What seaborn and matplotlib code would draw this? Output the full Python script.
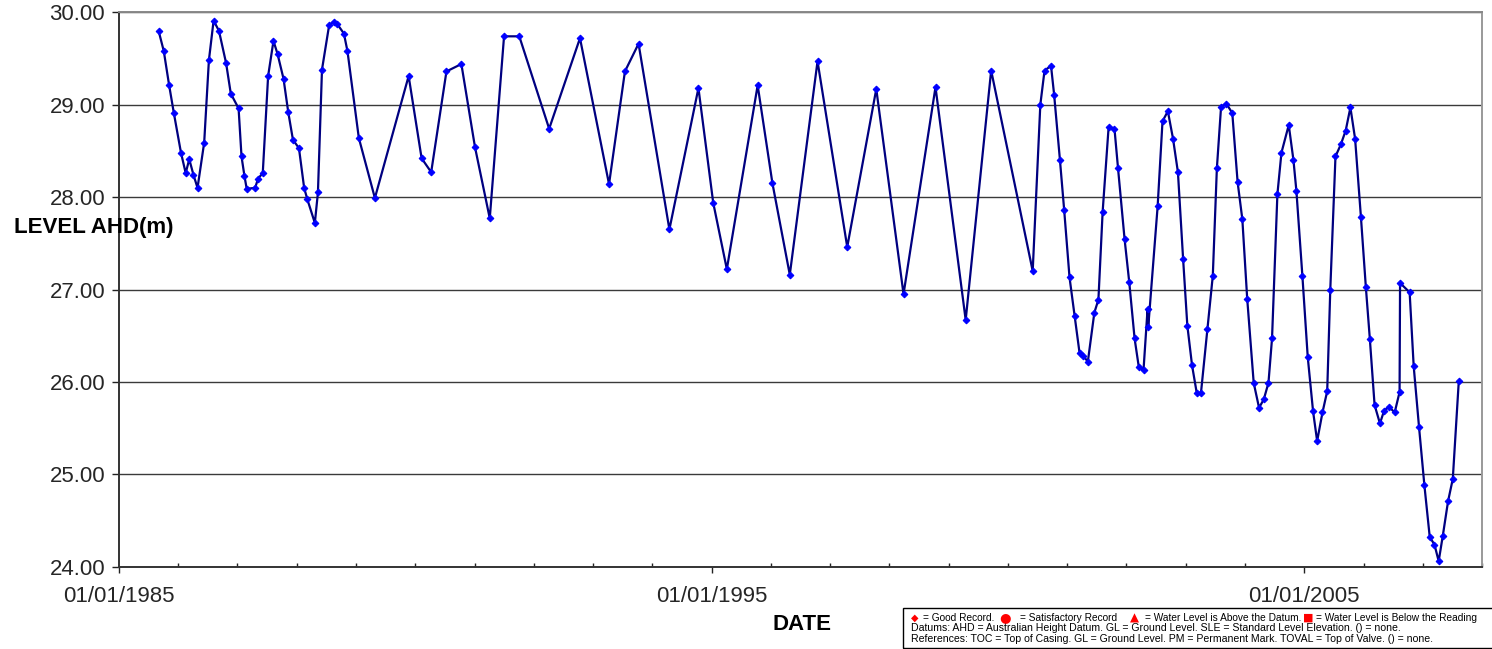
import numpy as np
import pandas as pd
import matplotlib
matplotlib.use("Agg")
import matplotlib.pyplot as plt
import matplotlib.dates as mdates
import matplotlib.ticker as mticker
from matplotlib.patches import Rectangle
import seaborn as sns

dates = [
    "1985-09-02", "1985-10-04", "1985-11-06", "1985-12-05", "1986-01-18", "1986-02-16",
    "1986-03-10", "1986-04-05", "1986-04-30", "1986-06-10", "1986-07-09", "1986-08-07",
    "1986-09-09", "1986-10-23", "1986-11-21", "1987-01-08", "1987-01-26", "1987-02-13",
    "1987-02-27", "1987-04-20", "1987-05-08", "1987-06-06", "1987-07-09", "1987-08-11",
    "1987-09-05", "1987-10-12", "1987-11-10", "1987-12-09", "1988-01-15", "1988-02-16",
    "1988-03-06", "1988-04-22", "1988-05-11", "1988-06-05", "1988-07-19", "1988-08-17",
    "1988-09-08", "1988-10-18", "1988-11-09", "1989-01-18", "1989-04-27", "1989-11-21",
    "1990-02-09", "1990-04-09", "1990-07-12", "1990-10-12", "1991-01-04", "1991-04-05",
    "1991-07-02", "1991-10-04", "1992-04-05", "1992-10-12", "1993-04-09", "1993-07-16",
    "1993-10-08", "1994-04-16", "1994-10-12", "1995-01-11", "1995-04-05", "1995-10-12",
    "1996-01-11", "1996-04-27", "1996-10-15", "1997-04-16", "1997-10-12", "1998-03-29",
    "1998-10-12", "1999-04-16", "1999-09-20", "2000-06-02", "2000-07-19", "2000-08-14",
    "2000-09-23", "2000-10-12", "2000-11-17", "2000-12-13", "2001-01-15", "2001-02-16",
    "2001-03-18", "2001-04-09", "2001-05-08", "2001-06-17", "2001-07-12", "2001-08-07",
    "2001-09-13", "2001-10-19", "2001-11-10", "2001-12-20", "2002-01-18", "2002-02-20",
    "2002-03-18", "2002-04-16", "2002-05-11", "2002-05-15", "2002-07-12", "2002-08-11",
    "2002-09-13", "2002-10-15", "2002-11-14", "2002-12-16", "2003-01-11", "2003-02-09",
    "2003-03-10", "2003-04-05", "2003-05-15", "2003-06-17", "2003-07-12", "2003-08-07",
    "2003-09-09", "2003-10-15", "2003-11-17", "2003-12-16", "2004-01-15", "2004-02-24",
    "2004-03-28", "2004-04-26", "2004-05-25", "2004-06-16", "2004-07-19", "2004-08-13",
    "2004-09-27", "2004-10-26", "2004-11-13", "2004-12-20", "2005-01-22", "2005-02-24",
    "2005-03-21", "2005-04-23", "2005-05-22", "2005-06-10", "2005-07-12", "2005-08-14",
    "2005-09-13", "2005-10-12", "2005-11-10", "2005-12-16", "2006-01-15", "2006-02-09",
    "2006-03-10", "2006-04-12", "2006-05-08", "2006-06-06", "2006-07-12", "2006-08-11",
    "2006-08-14", "2006-10-12", "2006-11-06", "2006-12-09", "2007-01-11", "2007-02-13",
    "2007-03-14", "2007-04-09", "2007-05-04", "2007-06-06", "2007-07-05", "2007-08-11",
]
levels = [
    29.80, 29.58, 29.21, 28.91, 28.48, 28.26,
    28.41, 28.24, 28.10, 28.59, 29.48, 29.91,
    29.80, 29.45, 29.12, 28.96, 28.44, 28.23,
    28.09, 28.10, 28.20, 28.26, 29.31, 29.69,
    29.55, 29.28, 28.92, 28.62, 28.53, 28.10,
    27.98, 27.72, 28.05, 29.38, 29.86, 29.90,
    29.87, 29.77, 29.58, 28.64, 27.99, 29.31,
    28.42, 28.27, 29.36, 29.44, 28.54, 27.77,
    29.74, 29.74, 28.74, 29.72, 28.14, 29.36,
    29.66, 27.65, 29.18, 27.94, 27.22, 29.21,
    28.15, 27.16, 29.47, 27.46, 29.17, 26.95,
    29.19, 26.67, 29.37, 27.20, 29.00, 29.37,
    29.42, 29.11, 28.40, 27.86, 27.13, 26.71,
    26.31, 26.28, 26.22, 26.75, 26.89, 27.84,
    28.76, 28.74, 28.31, 27.55, 27.08, 26.47,
    26.16, 26.13, 26.79, 26.59, 27.90, 28.82,
    28.93, 28.63, 28.27, 27.33, 26.61, 26.18,
    25.88, 25.88, 26.57, 27.15, 28.31, 28.98,
    29.01, 28.91, 28.16, 27.76, 26.90, 25.99,
    25.72, 25.81, 25.99, 26.47, 28.03, 28.48,
    28.78, 28.40, 28.07, 27.15, 26.27, 25.68,
    25.36, 25.67, 25.90, 27.00, 28.44, 28.57,
    28.72, 28.97, 28.63, 27.78, 27.03, 26.46,
    25.75, 25.55, 25.69, 25.73, 25.67, 25.89,
    27.07, 26.97, 26.17, 25.51, 24.88, 24.32,
    24.24, 24.06, 24.33, 24.71, 24.95, 26.01,
]

x_range = ["1985-01-01", "2008-01-01"]
x_major = ["1985-01-01", "1995-01-01", "2005-01-01"]
y_range = [24, 30]

legend_lines = [
    "Datums: AHD = Australian Height Datum. GL = Ground Level. SLE = Standard Level Elevation. () = none.",
    "References: TOC = Top of Casing. GL = Ground Level. PM = Permanent Mark. TOVAL = Top of Valve. () = none.",
]
record_symbols = ["\u25C6", "\u25CF", "\u25B2", "\u25A0"]
record_texts = ["= Good Record.", "= Satisfactory Record", "= Water Level is Above the Datum.",
                "= Water Level is Below the Reading"]

df = pd.DataFrame({"date": pd.to_datetime(dates), "level": levels})

sns.set_theme(style="white")
plt.rcParams['font.family'] = ['Liberation Sans', 'DejaVu Sans']

W, H = 1492, 649
fig = plt.figure(figsize=(W / 100, H / 100), dpi=100)
ax = fig.add_axes([119 / W, 1 - 566.7 / H, (1482 - 119) / W, (566.7 - 12.3) / H])

sns.lineplot(data=df, x="date", y="level", ax=ax, sort=False, color="#000080",
             linewidth=1.6, marker="D", markersize=3.4, markerfacecolor="#0000FF",
             markeredgecolor="#0000FF", zorder=3)

ax.set_xlim(pd.to_datetime(x_range))
ax.set_ylim(y_range)

ax.yaxis.set_major_locator(mticker.MultipleLocator(1))
ax.yaxis.set_major_formatter(mticker.FormatStrFormatter("%.2f"))
ax.yaxis.grid(True, color="#3a3a3a", linewidth=1.0)
ax.xaxis.grid(False)

ax.xaxis.set_major_locator(mticker.FixedLocator(mdates.date2num(pd.to_datetime(x_major))))
ax.xaxis.set_minor_locator(mdates.YearLocator(1))
ax.xaxis.set_major_formatter(mdates.DateFormatter("%d/%m/%Y"))

ax.tick_params(axis="x", which="major", direction="out", length=4.5, width=1,
               color="#222222", labelsize=16, pad=9.5, bottom=True)
ax.tick_params(axis="x", which="minor", direction="in", length=3, width=1,
               color="#222222", bottom=True)
ax.tick_params(axis="y", which="major", direction="out", length=5, width=1,
               color="#222222", labelsize=16, pad=5, left=True)
ax.set_xlabel("")
ax.set_ylabel("")

for side, col in [("left", "#333333"), ("bottom", "#333333"), ("top", "#888888"), ("right", "#999999")]:
    ax.spines[side].set_visible(True)
    ax.spines[side].set_color(col)
    ax.spines[side].set_linewidth(1.4)

fig.text(14 / W, 1 - 227 / H, "LEVEL AHD(m)", ha="left", va="center",
         fontsize=16, fontweight="bold", color="black", zorder=5)
fig.text(802 / W, 1 - 625 / H, "DATE", ha="center", va="center",
         fontsize=16, fontweight="bold", color="black")

# notes box along the bottom right, running off the right edge
fig.add_artist(Rectangle((902.7 / W, 1 - 648 / H), 0.6, (648 - 608) / H,
                         transform=fig.transFigure, fill=False, edgecolor="black",
                         linewidth=1.0, clip_on=False))

sym_x = [915, 1005, 1134, 1308]
sym_size = [7, 9.5, 8.5, 8]
txt_x = [923, 1020, 1145, 1316]
for s, t, sx, tx, fs in zip(record_symbols, record_texts, sym_x, txt_x, sym_size):
    fig.text(sx / W, 1 - 617.7 / H, s, ha="center", va="center", fontsize=fs, color="red",
             family=['DejaVu Sans'])
    fig.text(tx / W, 1 - 617.7 / H, t, ha="left", va="center", fontsize=7.3, color="black")

for line, yy in zip(legend_lines, [628.3, 639.3]):
    fig.text(910.7 / W, 1 - yy / H, line, ha="left", va="center", fontsize=7.6, color="black")

fig.savefig("out.png", dpi=100, facecolor="white")
